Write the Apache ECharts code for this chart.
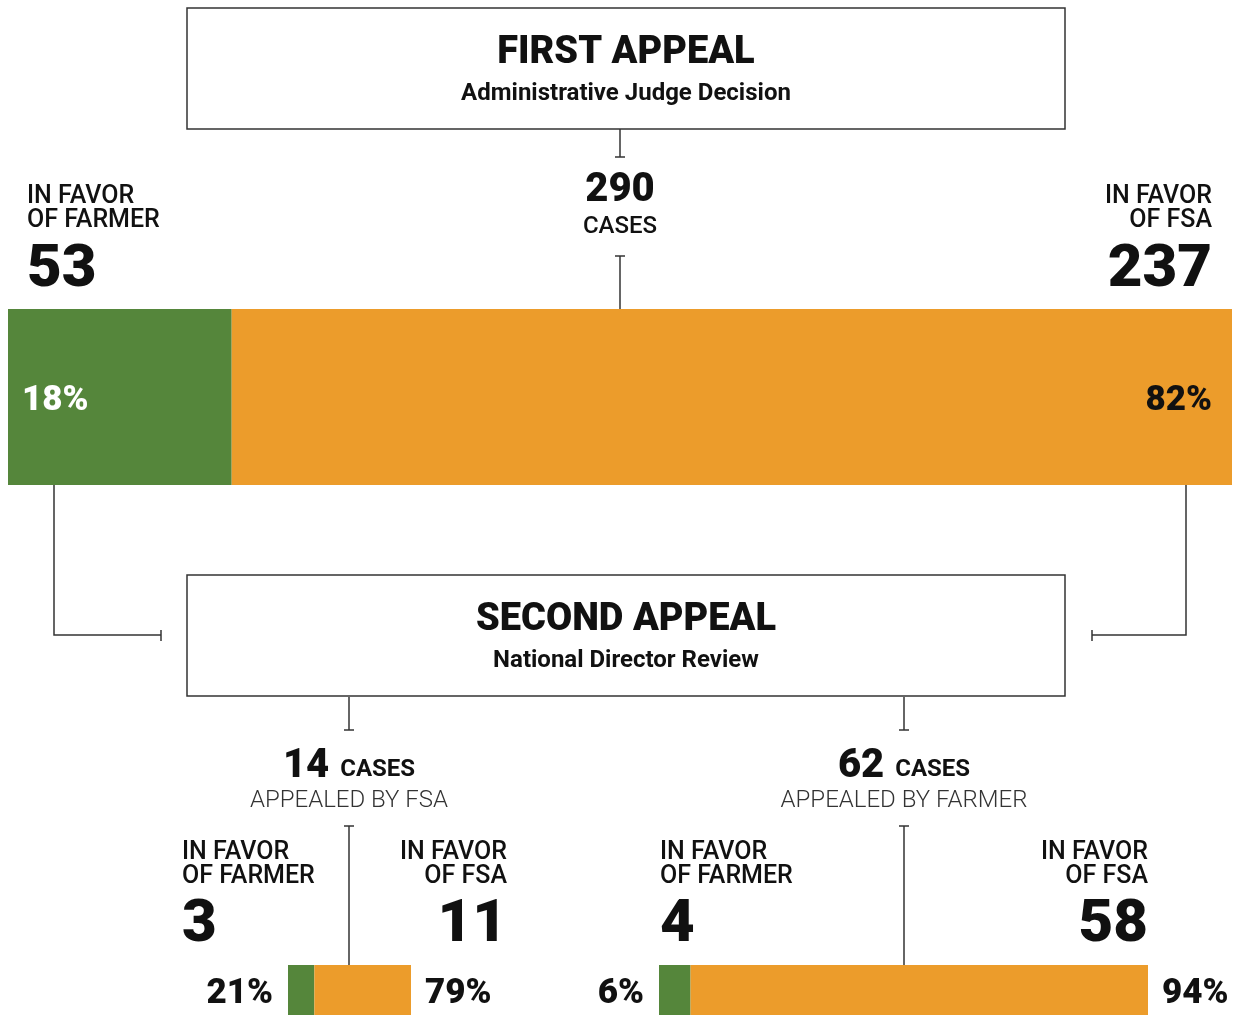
<!DOCTYPE html>
<html>
<head>
<meta charset="utf-8">
<script src="https://cdn.jsdelivr.net/npm/echarts@6/dist/echarts.min.js"></script>
<style>
  html, body { margin: 0; padding: 0; background: #fff; }
  #chart { width: 1239px; height: 1015px; }
</style>
</head>
<body>
<div id="chart"></div>
<script>
// data
const categories = ['First appeal', 'Appealed by FSA', 'Appealed by farmer'];
const totals = [290, 14, 62];
const farmerWins = [53, 3, 4];
const fsaWins = [237, 11, 58];
const boxTitles = ['FIRST APPEAL', 'SECOND APPEAL'];
const boxSubtitles = ['Administrative Judge Decision', 'National Director Review'];
const appealedBy = ['APPEALED BY FSA', 'APPEALED BY FARMER'];
const favorFarmer = 'IN FAVOR\nOF FARMER';
const favorFsa = 'IN FAVOR\nOF FSA';

const GREEN = '#55863b';
const ORANGE = '#ec9c2b';
const INK = '#111';
const LINE = '#333';
const FONT = 'Roboto, "Noto Sans", sans-serif';

const chart = echarts.init(document.getElementById('chart'));

// 三个条形图的位置
const grids = [
    { left: 8, top: 309, width: 1224, height: 176 },
    { left: 288, top: 965, width: 123, height: 50 },
    { left: 659, top: 965, width: 489, height: 50 }
];

const pct = (v, i) => Math.round(v / totals[i] * 100) + '%';

const xAxes = grids.map((g, i) => ({
    gridIndex: i, type: 'value', min: 0, max: totals[i], show: false
}));
const yAxes = grids.map((g, i) => ({
    gridIndex: i, type: 'category', data: [categories[i]], show: false
}));

const series = [];
grids.forEach((g, i) => {
    const big = i === 0;
    series.push({
        type: 'bar', name: 'In favor of farmer', stack: 's' + i,
        xAxisIndex: i, yAxisIndex: i, barWidth: '100%',
        data: [farmerWins[i]],
        itemStyle: { color: GREEN },
        silent: true,
        label: {
            show: true,
            position: big ? 'insideLeft' : 'left',
            distance: big ? 14 : 15,
            offset: [0, 4],
            formatter: p => pct(p.value, i),
            color: big ? '#fff' : INK,
            fontFamily: FONT, fontWeight: 900, fontSize: 35
        }
    });
    series.push({
        type: 'bar', name: 'In favor of FSA', stack: 's' + i,
        xAxisIndex: i, yAxisIndex: i, barWidth: '100%',
        data: [fsaWins[i]],
        itemStyle: { color: ORANGE },
        silent: true,
        label: {
            show: true,
            position: big ? 'insideRight' : 'right',
            distance: big ? 20 : 14,
            offset: [0, 4],
            formatter: p => pct(p.value, i),
            color: INK,
            fontFamily: FONT, fontWeight: 900, fontSize: 35
        }
    });
});

// 文字和连线
const graphics = [];
function txt(x, y, text, size, weight, align, extra) {
    graphics.push({
        type: 'text', x: x, y: y + 3, z: 10,
        style: Object.assign({
            text: text, fill: INK, fontFamily: FONT,
            fontSize: size, fontWeight: weight,
            align: align || 'left', verticalAlign: 'middle', lineHeight: 24
        }, extra || {})
    });
}
function line(pts) {
    graphics.push({
        type: 'polyline', z: 5,
        shape: { points: pts },
        style: { stroke: LINE, lineWidth: 1.5, fill: null }
    });
}
function box(y, title, sub) {
    graphics.push({
        type: 'rect', z: 4,
        shape: { x: 187, y: y, width: 878, height: 121 },
        style: { fill: '#fff', stroke: LINE, lineWidth: 1.5 }
    });
    txt(626, y + 42, title, 38, 900, 'center');
    txt(626, y + 83, sub, 24, 'bold', 'center');
}

box(8, boxTitles[0], boxSubtitles[0]);
box(575, boxTitles[1], boxSubtitles[1]);

// first appeal connectors
line([[620, 129], [620, 157]]);
line([[615, 157], [625, 157]]);
line([[615, 256], [625, 256]]);
line([[620, 256], [620, 309]]);
txt(620, 188, String(totals[0]), 40, 900, 'center');
txt(620, 224, 'CASES', 24, 500, 'center');

txt(27, 206, favorFarmer, 25, 500, 'left');
txt(27, 268, String(farmerWins[0]), 60, 900, 'left');
txt(1212, 206, favorFsa, 25, 500, 'right');
txt(1212, 268, String(fsaWins[0]), 60, 900, 'right');

// to second appeal
line([[54, 485], [54, 635], [161, 635]]);
line([[161, 630], [161, 641]]);
line([[1186, 485], [1186, 635], [1092, 635]]);
line([[1092, 630], [1092, 641]]);

// second appeal branches
const branchX = [349, 904];
const sideL = [182, 660];
const sideR = [507, 1148];
branchX.forEach((bx, k) => {
    const i = k + 1;
    line([[bx, 697], [bx, 730]]);
    line([[bx - 5, 730], [bx + 5, 730]]);
    line([[bx - 5, 826], [bx + 5, 826]]);
    line([[bx, 826], [bx, 965]]);
    graphics.push({
        type: 'text', x: bx, y: 767, z: 10,
        style: {
            text: '{n|' + totals[i] + '}{c|CASES}',
            align: 'center', verticalAlign: 'middle', fill: INK,
            rich: {
                n: { fontFamily: FONT, fontSize: 40, fontWeight: 900, fill: INK },
                c: { fontFamily: FONT, fontSize: 24, fontWeight: 'bold', fill: INK, padding: [6, 0, 0, 11] }
            }
        }
    });
    txt(bx, 798, appealedBy[k], 24, 300, 'center', { fill: '#333' });
    txt(sideL[k], 862, favorFarmer, 25, 500, 'left');
    txt(sideL[k], 923, String(farmerWins[i]), 60, 900, 'left');
    txt(sideR[k], 862, favorFsa, 25, 500, 'right');
    txt(sideR[k], 923, String(fsaWins[i]), 60, 900, 'right');
});

chart.setOption({
    animation: false,
    backgroundColor: '#fff',
    grid: grids,
    xAxis: xAxes,
    yAxis: yAxes,
    series: series,
    graphic: graphics
});
</script>
</body>
</html>
